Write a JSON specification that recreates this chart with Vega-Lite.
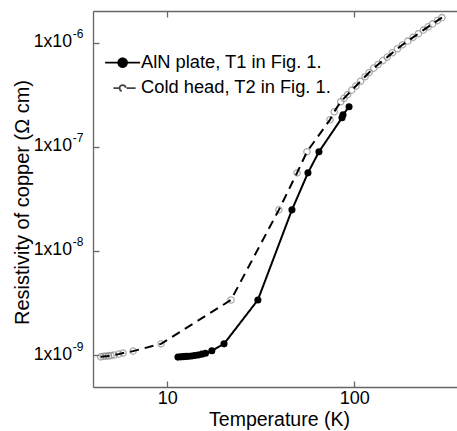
{
  "$schema": "https://vega.github.io/schema/vega-lite/v6.json",
  "width": 364,
  "height": 376,
  "autosize": "none",
  "padding": {"left": 93, "top": 11, "right": 0, "bottom": 44},
  "background": "white",
  "config": {
    "view": {"stroke": null},
    "font": "Liberation Sans",
    "axis": {"grid": false, "domainColor": "#666", "tickColor": "#666", "domainWidth": 1.3, "tickWidth": 1.3, "labelColor": "black", "titleColor": "black", "labelFont": "Liberation Sans", "titleFont": "Liberation Sans", "titleFontWeight": "normal"}
  },
  "data": {
    "values": [
      {"T": 11.4, "rho": 9.55e-10, "series": "AlN plate, T1 in Fig. 1."},
      {"T": 11.8, "rho": 9.6e-10, "series": "AlN plate, T1 in Fig. 1."},
      {"T": 12.2, "rho": 9.65e-10, "series": "AlN plate, T1 in Fig. 1."},
      {"T": 12.6, "rho": 9.7e-10, "series": "AlN plate, T1 in Fig. 1."},
      {"T": 13.0, "rho": 9.75e-10, "series": "AlN plate, T1 in Fig. 1."},
      {"T": 13.5, "rho": 9.8e-10, "series": "AlN plate, T1 in Fig. 1."},
      {"T": 14.0, "rho": 9.9e-10, "series": "AlN plate, T1 in Fig. 1."},
      {"T": 14.6, "rho": 1.0e-9, "series": "AlN plate, T1 in Fig. 1."},
      {"T": 15.3, "rho": 1.02e-9, "series": "AlN plate, T1 in Fig. 1."},
      {"T": 16.0, "rho": 1.04e-9, "series": "AlN plate, T1 in Fig. 1."},
      {"T": 17.3, "rho": 1.1e-9, "series": "AlN plate, T1 in Fig. 1."},
      {"T": 20.1, "rho": 1.28e-9, "series": "AlN plate, T1 in Fig. 1."},
      {"T": 30.5, "rho": 3.38e-9, "series": "AlN plate, T1 in Fig. 1."},
      {"T": 46.4, "rho": 2.48e-8, "series": "AlN plate, T1 in Fig. 1."},
      {"T": 56.5, "rho": 5.62e-8, "series": "AlN plate, T1 in Fig. 1."},
      {"T": 64.7, "rho": 8.96e-8, "series": "AlN plate, T1 in Fig. 1."},
      {"T": 85.9, "rho": 1.9e-7, "series": "AlN plate, T1 in Fig. 1."},
      {"T": 87.0, "rho": 2.03e-7, "series": "AlN plate, T1 in Fig. 1."},
      {"T": 93.7, "rho": 2.43e-7, "series": "AlN plate, T1 in Fig. 1."},
      {"T": 4.4, "rho": 9.6e-10, "series": "Cold head, T2 in Fig. 1."},
      {"T": 4.55, "rho": 9.7e-10, "series": "Cold head, T2 in Fig. 1."},
      {"T": 4.7, "rho": 9.75e-10, "series": "Cold head, T2 in Fig. 1."},
      {"T": 4.85, "rho": 9.8e-10, "series": "Cold head, T2 in Fig. 1."},
      {"T": 5.0, "rho": 9.9e-10, "series": "Cold head, T2 in Fig. 1."},
      {"T": 5.2, "rho": 1.0e-9, "series": "Cold head, T2 in Fig. 1."},
      {"T": 5.5, "rho": 1.02e-9, "series": "Cold head, T2 in Fig. 1."},
      {"T": 5.8, "rho": 1.045e-9, "series": "Cold head, T2 in Fig. 1."},
      {"T": 6.56, "rho": 1.09e-9, "series": "Cold head, T2 in Fig. 1."},
      {"T": 9.25, "rho": 1.28e-9, "series": "Cold head, T2 in Fig. 1."},
      {"T": 21.9, "rho": 3.38e-9, "series": "Cold head, T2 in Fig. 1."},
      {"T": 39.5, "rho": 2.48e-8, "series": "Cold head, T2 in Fig. 1."},
      {"T": 49.4, "rho": 5.62e-8, "series": "Cold head, T2 in Fig. 1."},
      {"T": 55.8, "rho": 8.96e-8, "series": "Cold head, T2 in Fig. 1."},
      {"T": 74.1, "rho": 1.82e-7, "series": "Cold head, T2 in Fig. 1."},
      {"T": 78.1, "rho": 2.17e-7, "series": "Cold head, T2 in Fig. 1."},
      {"T": 84.5, "rho": 2.71e-7, "series": "Cold head, T2 in Fig. 1."},
      {"T": 88, "rho": 2.92e-7, "series": "Cold head, T2 in Fig. 1."},
      {"T": 92, "rho": 3.17e-7, "series": "Cold head, T2 in Fig. 1."},
      {"T": 97, "rho": 3.5e-7, "series": "Cold head, T2 in Fig. 1."},
      {"T": 102, "rho": 3.84e-7, "series": "Cold head, T2 in Fig. 1."},
      {"T": 108, "rho": 4.26e-7, "series": "Cold head, T2 in Fig. 1."},
      {"T": 114, "rho": 4.71e-7, "series": "Cold head, T2 in Fig. 1."},
      {"T": 120, "rho": 5.18e-7, "series": "Cold head, T2 in Fig. 1."},
      {"T": 127, "rho": 5.7e-7, "series": "Cold head, T2 in Fig. 1."},
      {"T": 134, "rho": 6.17e-7, "series": "Cold head, T2 in Fig. 1."},
      {"T": 142, "rho": 6.73e-7, "series": "Cold head, T2 in Fig. 1."},
      {"T": 150, "rho": 7.27e-7, "series": "Cold head, T2 in Fig. 1."},
      {"T": 160, "rho": 8.0e-7, "series": "Cold head, T2 in Fig. 1."},
      {"T": 170, "rho": 8.75e-7, "series": "Cold head, T2 in Fig. 1."},
      {"T": 181, "rho": 9.55e-7, "series": "Cold head, T2 in Fig. 1."},
      {"T": 193, "rho": 1.035e-6, "series": "Cold head, T2 in Fig. 1."},
      {"T": 206, "rho": 1.125e-6, "series": "Cold head, T2 in Fig. 1."},
      {"T": 220, "rho": 1.22e-6, "series": "Cold head, T2 in Fig. 1."},
      {"T": 234, "rho": 1.32e-6, "series": "Cold head, T2 in Fig. 1."},
      {"T": 248, "rho": 1.42e-6, "series": "Cold head, T2 in Fig. 1."},
      {"T": 262, "rho": 1.515e-6, "series": "Cold head, T2 in Fig. 1."},
      {"T": 278, "rho": 1.63e-6, "series": "Cold head, T2 in Fig. 1."},
      {"T": 294, "rho": 1.74e-6, "series": "Cold head, T2 in Fig. 1."}
    ]
  },
  "layer": [
    {
      "transform": [{"filter": "datum.series == 'Cold head, T2 in Fig. 1.'"}],
      "mark": {"type": "point", "filled": false, "color": "#8a8a8a", "size": 40, "strokeWidth": 1.3},
      "encoding": {
        "x": {"field": "T", "type": "quantitative", "scale": {"type": "log", "domain": [4.006, 354], "nice": false}, "axis": null},
        "y": {"field": "rho", "type": "quantitative", "scale": {"type": "log", "domain": [4.93e-10, 2.016e-6], "nice": false},
          "axis": {"orient": "left", "values": [1e-9, 1e-8, 1e-7, 1e-6], "ticks": false, "domain": false, "labelFontSize": 12, "labelPadding": 10, "labelOffset": -9, "labelAlign": "right", "labelExpr": "'-' + round(-log(datum.value)/LN10)", "title": null}}
      }
    },
    {
      "mark": {"type": "line", "color": "black", "strokeWidth": 2},
      "encoding": {
        "x": {"field": "T", "type": "quantitative", "scale": {"type": "log", "domain": [4.006, 354], "nice": false},
          "axis": {"orient": "bottom", "values": [10, 100], "tickSize": -6, "labelFontSize": 18, "labelPadding": 8, "format": "d", "title": "Temperature (K)", "titleFontSize": 19.5, "titleX": 186, "titleY": 38, "titleBaseline": "alphabetic", "titleAnchor": null, "titleAlign": "center"}},
        "y": {"field": "rho", "type": "quantitative", "scale": {"type": "log", "domain": [4.93e-10, 2.016e-6], "nice": false},
          "axis": {"orient": "left", "values": [1e-9, 1e-8, 1e-7, 1e-6], "tickSize": -6, "labelFontSize": 17.7, "labelPadding": 27.5, "labelOffset": -1, "labelExpr": "'1x10'", "title": "Resistivity of copper (Ω cm)", "titleFontSize": 20, "titleX": -71, "titleY": 191, "titleAngle": -90, "titleBaseline": "middle", "titleAlign": "center", "titleAnchor": null}},
        "strokeDash": {"field": "series", "type": "nominal",
          "scale": {"domain": ["AlN plate, T1 in Fig. 1.", "Cold head, T2 in Fig. 1."], "range": [[1, 0], [9, 6]]},
          "legend": {
            "title": null, "orient": "none", "legendX": 20.5, "legendY": 42.5, "padding": 0,
            "symbolType": "M-4,0L-1,0M1,0L4,0M-1,0A1,1,0,1,1,1,0A1,1,0,1,1,-1,0",
            "symbolSize": 76.6, "symbolStrokeWidth": 1.8, "symbolStrokeColor": "black",
            "labelFont": "Liberation Sans", "labelFontSize": 18.3, "labelColor": "black", "labelOffset": 9.25, "rowPadding": 6.5, "labelLimit": 400,
            "encode": {"symbols": {"update": {
              "shape": {"signal": "datum.value == 'Cold head, T2 in Fig. 1.' ? 'M-2.1,0L-0.7,0M0.9,0L3,0M-0.7,0A0.7,0.7,0,1,1,0.7,0A0.7,0.7,0,1,1,-0.7,0' : 'M-4,0L-1,0M1,0L4,0M-1,0A1,1,0,1,1,1,0A1,1,0,1,1,-1,0'"},
              "fill": {"signal": "datum.value == 'Cold head, T2 in Fig. 1.' ? 'white' : 'black'"},
              "stroke": {"signal": "datum.value == 'Cold head, T2 in Fig. 1.' ? '#444' : 'black'"},
              "strokeDash": {"value": [1, 0]}
            }}}
          }
        }
      }
    },
    {
      "transform": [{"filter": "datum.series == 'AlN plate, T1 in Fig. 1.'"}],
      "mark": {"type": "point", "filled": true, "color": "black", "size": 50, "opacity": 1},
      "encoding": {
        "x": {"field": "T", "type": "quantitative", "scale": {"type": "log", "domain": [4.006, 354], "nice": false},
          "axis": {"orient": "top", "values": [10, 100], "tickSize": -6, "labels": false, "title": null}},
        "y": {"field": "rho", "type": "quantitative", "scale": {"type": "log", "domain": [4.93e-10, 2.016e-6], "nice": false}, "axis": null}
      }
    }
  ],
  "resolve": {"axis": {"x": "independent", "y": "independent"}}
}
